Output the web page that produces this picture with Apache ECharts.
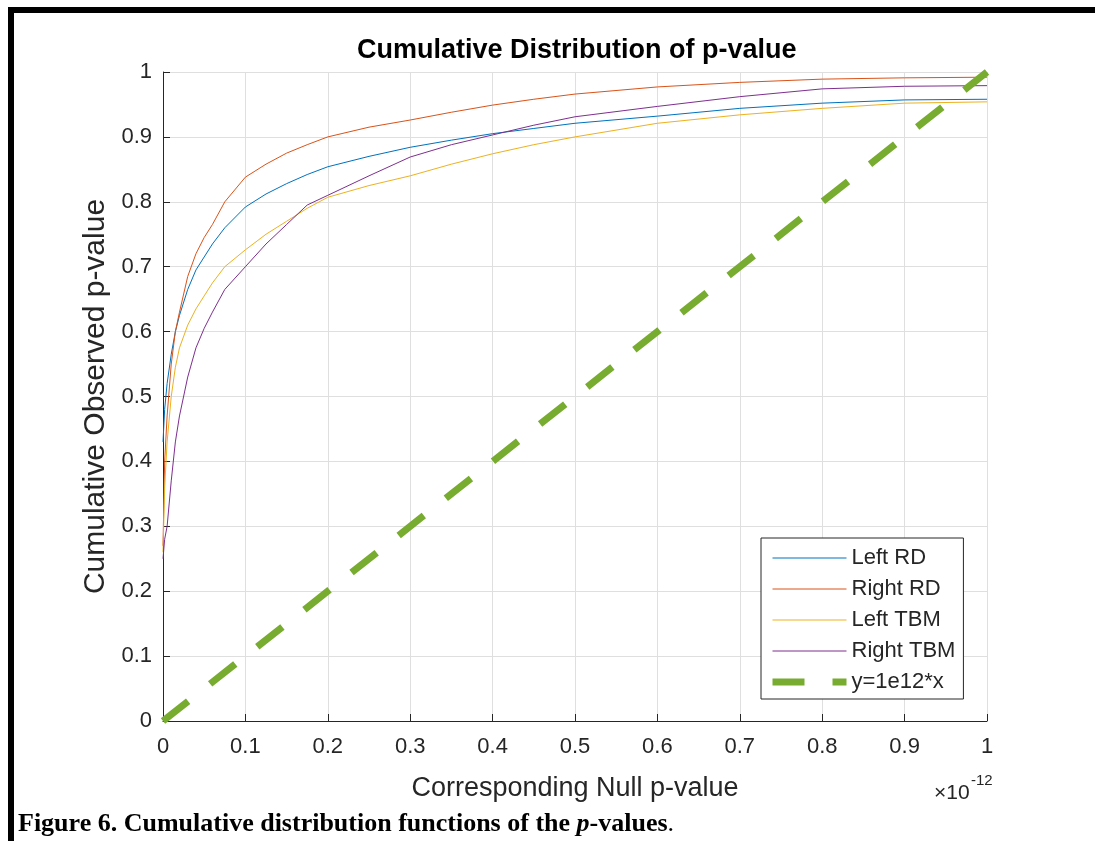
<!DOCTYPE html>
<html>
<head>
<meta charset="utf-8">
<script src="https://cdn.jsdelivr.net/npm/echarts@6/dist/echarts.min.js"></script>
<style>
  html, body { margin: 0; padding: 0; background: #fff; }
  #main { width: 1095px; height: 841px; }
</style>
</head>
<body>
<div id="main"></div>
<script>
// null p-value (in units of 1e-12)
var xNull = [0, 0.002, 0.005, 0.01, 0.015, 0.02, 0.03, 0.04, 0.05, 0.06, 0.075, 0.1, 0.125, 0.15, 0.175, 0.2, 0.25, 0.3, 0.35, 0.4, 0.45, 0.5, 0.6, 0.7, 0.8, 0.9, 1.0];
var leftRD   = [0.43, 0.48, 0.52, 0.565, 0.60, 0.625, 0.665, 0.695, 0.715, 0.735, 0.76, 0.792, 0.812, 0.828, 0.842, 0.854, 0.87, 0.884, 0.895, 0.905, 0.913, 0.921, 0.932, 0.944, 0.952, 0.957, 0.958];
var rightRD  = [0.27, 0.40, 0.47, 0.55, 0.60, 0.63, 0.685, 0.72, 0.745, 0.765, 0.80, 0.838, 0.858, 0.875, 0.888, 0.90, 0.915, 0.926, 0.938, 0.949, 0.958, 0.966, 0.977, 0.984, 0.989, 0.991, 0.992];
var leftTBM  = [0.26, 0.36, 0.43, 0.50, 0.545, 0.575, 0.61, 0.635, 0.655, 0.675, 0.70, 0.726, 0.75, 0.77, 0.79, 0.807, 0.825, 0.84, 0.858, 0.874, 0.888, 0.90, 0.921, 0.934, 0.944, 0.952, 0.954];
var rightTBM = [0.25, 0.28, 0.30, 0.37, 0.43, 0.47, 0.53, 0.575, 0.605, 0.63, 0.665, 0.70, 0.735, 0.765, 0.795, 0.81, 0.84, 0.869, 0.888, 0.903, 0.918, 0.931, 0.947, 0.962, 0.974, 0.978, 0.979];
var refX = [0, 1];
var refY = [0, 1];

function pairs(xs, ys) {
    return xs.map(function (x, i) { return [x, ys[i]]; });
}

var axisColor = '#262626';
var gridColor = '#dfdfdf';
var font = 'Liberation Sans';

var myChart = echarts.init(document.getElementById('main'), null, { renderer: 'canvas' });
var option = {
    backgroundColor: '#fff',
    animation: false,
    title: {
        text: 'Cumulative Distribution of p-value',
        left: 352,
        top: 32,
        textStyle: { fontFamily: font, fontSize: 27, fontWeight: 'bold', color: '#000' }
    },
    grid: { left: 163, right: 108, top: 72, bottom: 120 },
    legend: {
        orient: 'vertical',
        left: 761,
        top: 538,
        padding: [9, 8, 6, 8],
        itemWidth: 74,
        itemHeight: 14,
        itemGap: 9,
        backgroundColor: '#fff',
        borderColor: axisColor,
        borderWidth: 1,
        borderRadius: 0,
        itemStyle: { opacity: 0 },
        lineStyle: { width: 'inherit' },
        textStyle: { fontFamily: font, fontSize: 22, color: axisColor },
        data: ['Left RD', 'Right RD', 'Left TBM', 'Right TBM', 'y=1e12*x']
    },
    xAxis: {
        type: 'value',
        min: 0,
        max: 1,
        interval: 0.1,
        name: 'Corresponding Null p-value',
        nameLocation: 'middle',
        nameGap: 54,
        nameTextStyle: { fontFamily: font, fontSize: 27, color: axisColor },
        axisLine: { lineStyle: { color: axisColor, width: 1 } },
        axisTick: { inside: true, length: 7, lineStyle: { color: axisColor } },
        axisLabel: { fontFamily: font, fontSize: 22, color: axisColor, margin: 15 },
        splitLine: { show: true, lineStyle: { color: gridColor, width: 1 } }
    },
    yAxis: {
        type: 'value',
        min: 0,
        max: 1,
        interval: 0.1,
        name: 'Cumulative Observed p-value',
        nameLocation: 'middle',
        nameGap: 50,
        nameTextStyle: { fontFamily: font, fontSize: 30, color: axisColor },
        axisLine: { show: true, lineStyle: { color: axisColor, width: 1 } },
        axisTick: { show: true, inside: true, length: 7, lineStyle: { color: axisColor } },
        axisLabel: { fontFamily: font, fontSize: 22, color: axisColor, margin: 11 },
        splitLine: { show: true, lineStyle: { color: gridColor, width: 1 } }
    },
    series: [
        { name: 'Left RD', type: 'line', data: pairs(xNull, leftRD), showSymbol: false, symbol: 'none',
          lineStyle: { color: '#0072BD', width: 1 }, itemStyle: { color: '#0072BD' } },
        { name: 'Right RD', type: 'line', data: pairs(xNull, rightRD), showSymbol: false, symbol: 'none',
          lineStyle: { color: '#D95319', width: 1 }, itemStyle: { color: '#D95319' } },
        { name: 'Left TBM', type: 'line', data: pairs(xNull, leftTBM), showSymbol: false, symbol: 'none',
          lineStyle: { color: '#EDB120', width: 1 }, itemStyle: { color: '#EDB120' } },
        { name: 'Right TBM', type: 'line', data: pairs(xNull, rightTBM), showSymbol: false, symbol: 'none',
          lineStyle: { color: '#7E2F8E', width: 1 }, itemStyle: { color: '#7E2F8E' } },
        { name: 'y=1e12*x', type: 'line', data: pairs(refX, refY), showSymbol: false, symbol: 'none',
          lineStyle: { color: '#77AC30', width: 7, type: [32, 28] }, itemStyle: { color: '#77AC30' } }
    ],
    graphic: [
        // page border bars
        { type: 'rect', shape: { x: 8, y: 7, width: 1087, height: 6 }, style: { fill: '#000' } },
        { type: 'rect', shape: { x: 8, y: 7, width: 6, height: 834 }, style: { fill: '#000' } },
        // x axis exponent
        { type: 'text', left: 934, top: 783, style: { text: '\u00d710', font: '21px "Liberation Sans"', fill: axisColor } },
        { type: 'text', left: 971, top: 773, style: { text: '-12', font: '15px "Liberation Sans"', fill: axisColor } },
        // caption
        {
            type: 'text', left: 18, top: 811,
            style: {
                text: '{b|Figure 6. Cumulative distribution functions of the }{i|p}{b|-values}{n|.}',
                rich: {
                    b: { fontFamily: 'Liberation Serif', fontSize: 26, fontWeight: 'bold', fill: '#000' },
                    i: { fontFamily: 'Liberation Serif', fontSize: 26, fontWeight: 'bold', fontStyle: 'italic', fill: '#000' },
                    n: { fontFamily: 'Liberation Serif', fontSize: 26, fill: '#000' }
                }
            }
        }
    ]
};
myChart.setOption(option);
</script>
</body>
</html>
